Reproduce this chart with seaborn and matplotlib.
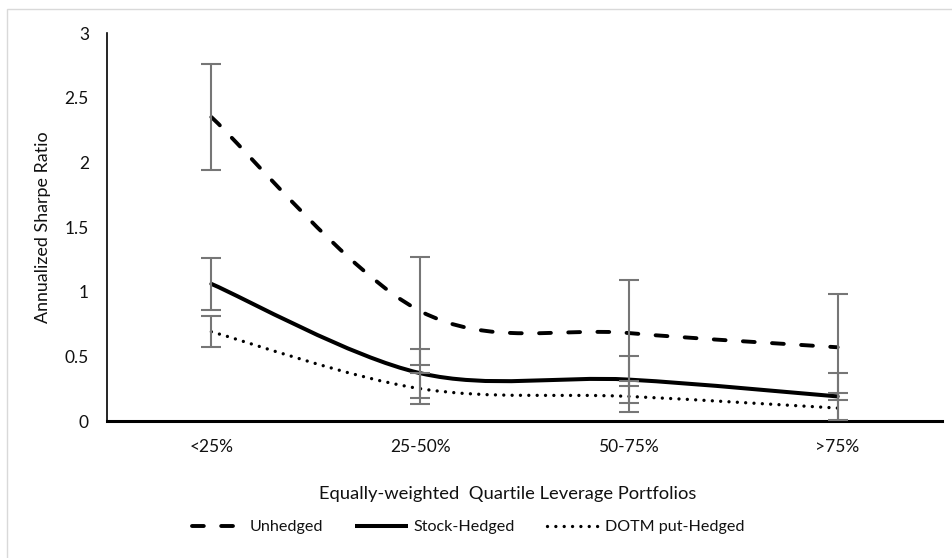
import numpy as np
import matplotlib
matplotlib.use("Agg")
import matplotlib.pyplot as plt
from matplotlib.path import Path
from matplotlib.patches import PathPatch, Rectangle
from matplotlib.lines import Line2D
import seaborn as sns

# Quartile leverage portfolios and annualized Sharpe ratios
categories = ["<25%", "25-50%", "50-75%", ">75%"]
unhedged = [2.35, 0.85, 0.68, 0.57]
stock_hedged = [1.06, 0.37, 0.32, 0.19]
dotm_hedged = [0.69, 0.25, 0.19, 0.10]

# Half-widths of the error bars
unhedged_err = [0.41, 0.42, 0.41, 0.41]
stock_err = [0.20, 0.19, 0.18, 0.18]
dotm_err = [0.12, 0.12, 0.12, 0.12]

y_ticks = [0, 0.5, 1, 1.5, 2, 2.5, 3]
y_tick_labels = ["0", "0.5", "1", "1.5", "2", "2.5", "3"]

sns.set_theme(style="white")
plt.rcParams["font.family"] = ["Lato", "DejaVu Sans"]
plt.rcParams["lines.scale_dashes"] = False

fig = plt.figure(figsize=(9.53, 5.58), dpi=100)
ax = fig.add_axes([107 / 953, 1 - 421 / 558, (942 - 107) / 953, (421 - 33) / 558])

x = np.arange(len(categories), dtype=float)


def smooth_path(xs, ys):
    """Bezier path through the points, Catmull-Rom style tangents."""
    pts = np.column_stack([xs, ys])
    n = len(pts)
    verts = [pts[0]]
    codes = [Path.MOVETO]
    for i in range(n - 1):
        p0 = pts[max(i - 1, 0)]
        p1 = pts[i]
        p2 = pts[i + 1]
        p3 = pts[min(i + 2, n - 1)]
        c1 = p1 + (p2 - p0) / 6.0
        c2 = p2 - (p3 - p1) / 6.0
        verts += [c1, c2, p2]
        codes += [Path.CURVE4] * 3
    return Path(verts, codes)


series = [
    ("Unhedged", unhedged, unhedged_err, dict(linestyle=(0, (8.5, 12.5)), linewidth=2.8)),
    ("Stock-Hedged", stock_hedged, stock_err, dict(linestyle="-", linewidth=2.9)),
    ("DOTM put-Hedged", dotm_hedged, dotm_err, dict(linestyle=(0, (0.01, 6.0)), linewidth=2.4)),
]

handles = []
for name, vals, errs, style in series:
    patch = PathPatch(smooth_path(x, vals), facecolor="none", edgecolor="black",
                      capstyle="round", zorder=3, **style)
    ax.add_patch(patch)
    ax.errorbar(x, vals, yerr=errs, fmt="none", ecolor="#767676",
                elinewidth=1.5, capsize=7.0, capthick=1.5, zorder=4)
    handles.append(Line2D([0], [0], color="black", solid_capstyle="butt",
                          dash_capstyle="round", **style))

ax.set_xlim(-0.5, len(categories) - 0.5)
ax.set_ylim(0, 3)
ax.set_xticks(x)
ax.set_xticklabels(categories, fontsize=12.5, color="#111111")
ax.set_yticks(y_ticks)
ax.set_yticklabels(y_tick_labels, fontsize=12.5, color="#111111")
ax.tick_params(axis="y", length=0, pad=13)
ax.tick_params(axis="x", length=0, pad=13)
ax.grid(False)

sns.despine(ax=ax, top=True, right=True)
ax.spines["left"].set_color("black")
ax.spines["left"].set_linewidth(1.2)
ax.spines["bottom"].set_color("black")
ax.spines["bottom"].set_linewidth(2.2)

ax.set_ylabel("Annualized Sharpe Ratio", fontsize=12.9, color="#111111", labelpad=10)
fig.text(508 / 953, 1 - 494 / 558, "Equally-weighted  Quartile Leverage Portfolios",
         ha="center", va="center", fontsize=13.2, color="#111111")

leg = fig.legend(handles, [s[0] for s in series], loc="center",
                 bbox_to_anchor=(468 / 953, 1 - 527 / 558), ncol=3, frameon=False,
                 fontsize=11.6, handlelength=3.3, columnspacing=2.0, handletextpad=0.3)
for t in leg.get_texts():
    t.set_color("#111111")

# light chart-area border
fig.patches.append(Rectangle((7 / 953, -0.05), 1.2, 1 - 9 / 558 + 0.05,
                             transform=fig.transFigure, fill=False,
                             edgecolor="#d9d9d9", linewidth=1.0))

fig.savefig("out.png", dpi=100, facecolor="white")
